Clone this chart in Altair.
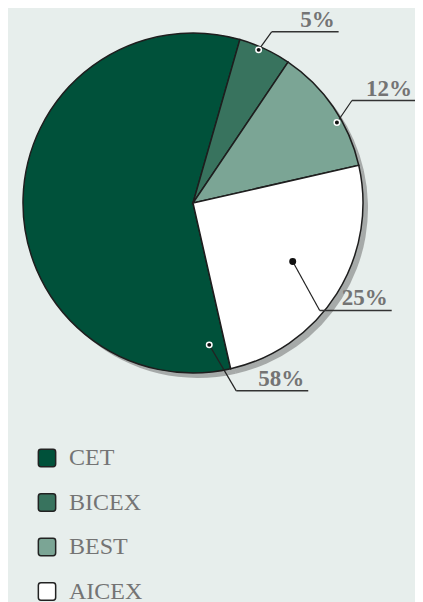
import math
import altair as alt
import pandas as pd

# ---- data ----
categories = ["CET", "BICEX", "BEST", "AICEX"]
shares = [58, 5, 12, 25]
label_texts = ["58%", "5%", "12%", "25%"]
pie_order = [4, 1, 2, 3]          # clockwise order starting at the top
colors = ["#00513a", "#38735e", "#7ba595", "#ffffff"]

# ---- layout / style constants ----
CX, CY, R = 185, 195, 170
START = math.radians(16)
BG = "#e7eeec"
TXT = "#747474"
FONT = "Liberation Serif"
# annotation geometry per category: (fraction along slice, radius fraction, leader dx, leader dy, underline length)
annot = {
    "BICEX": (0.40, 0.98, 13, -18, 67),
    "BEST": (0.62, 0.97, 15, -22, 64),
    "AICEX": (0.48, 0.68, 27, 49, 72),
    "CET": (0.03, 0.84, 27, 46, 72),
}

df = pd.DataFrame({"cat": categories, "share": shares, "label": label_texts, "ord": pie_order})

# derive annotation positions from slice angles
total = sum(shares)
seq = sorted(zip(pie_order, categories, shares))
start_angle = {}
acc = START
for _, c, s in seq:
    start_angle[c] = (acc, s / total * 2 * math.pi)
    acc += s / total * 2 * math.pi

rows = []
for c, lab in zip(categories, label_texts):
    a0, span = start_angle[c]
    f, rf, ldx, ldy, ul = annot[c]
    a = a0 + f * span
    dx_ = CX + rf * R * math.sin(a)
    dy_ = CY - rf * R * math.cos(a)
    ex, ey = dx_ + ldx, dy_ + ldy
    rows.append(dict(cat=c, label=lab, x1=dx_, y1=dy_, x2=ex, y2=ey, ux=ex + ul))
ann = pd.DataFrame(rows)

color_scale = alt.Scale(domain=categories, range=colors)
theta_scale = alt.Scale(range=[START, START + 2 * math.pi])

shadow = alt.Chart(df).mark_arc(radius=R, color="#666666", opacity=0.5).encode(
    theta=alt.Theta("share:Q", stack=True, scale=theta_scale),
    order=alt.Order("ord:Q"),
    x=alt.value(CX + 5),
    y=alt.value(CY + 5),
)

rounded = "M -0.7,-1 L 0.7,-1 Q 1,-1 1,-0.7 L 1,0.7 Q 1,1 0.7,1 L -0.7,1 Q -1,1 -1,0.7 L -1,-0.7 Q -1,-1 -0.7,-1 Z"

pie = alt.Chart(df).mark_arc(radius=R, stroke="#1e1e1e", strokeWidth=1.5).encode(
    theta=alt.Theta("share:Q", stack=True, scale=theta_scale),
    order=alt.Order("ord:Q"),
    color=alt.Color(
        "cat:N",
        scale=color_scale,
        legend=alt.Legend(
            title=None,
            orient="none",
            legendX=27,
            legendY=438,
            direction="vertical",
            symbolType=rounded,
            symbolSize=300,
            symbolStrokeColor="#222222",
            symbolStrokeWidth=1.5,
            symbolOpacity=1,
            labelFont=FONT,
            labelFontSize=24,
            labelColor=TXT,
            labelOffset=10,
            rowPadding=20.5,
            labelLimit=200,
        ),
    ),
    x=alt.value(CX),
    y=alt.value(CY),
)

leader = alt.Chart(ann).mark_rule(color="#222222", strokeWidth=1.2).encode(
    x=alt.X("x1:Q", scale=None), y=alt.Y("y1:Q", scale=None),
    x2="x2:Q", y2="y2:Q",
)
underline = alt.Chart(ann).mark_rule(color="#333333", strokeWidth=1.5).encode(
    x=alt.X("x2:Q", scale=None), y=alt.Y("y2:Q", scale=None),
    x2="ux:Q", y2="y2:Q",
)
dots = alt.Chart(ann).mark_point(filled=True, size=30, strokeWidth=1.5, opacity=1).encode(
    x=alt.X("x1:Q", scale=None), y=alt.Y("y1:Q", scale=None),
    fill=alt.value("#111111"),
    stroke=alt.condition(alt.datum.cat == "AICEX", alt.value("#111111"), alt.value("#ffffff")),
)
labels = alt.Chart(ann).mark_text(
    font=FONT, fontSize=23, fontWeight="bold", color=TXT, align="right", baseline="alphabetic", dx=-4, dy=-5
).encode(
    x=alt.X("ux:Q", scale=None), y=alt.Y("y2:Q", scale=None), text="label:N",
)

chart = (
    alt.layer(shadow, pie, leader, underline, dots, labels)
    .properties(width=407, height=600, background=BG, padding=0, autosize=alt.AutoSizeParams(type="none"))
    .configure_view(stroke=None)
)

chart.save("out.html", embed_options={"renderer": "svg", "actions": False})
